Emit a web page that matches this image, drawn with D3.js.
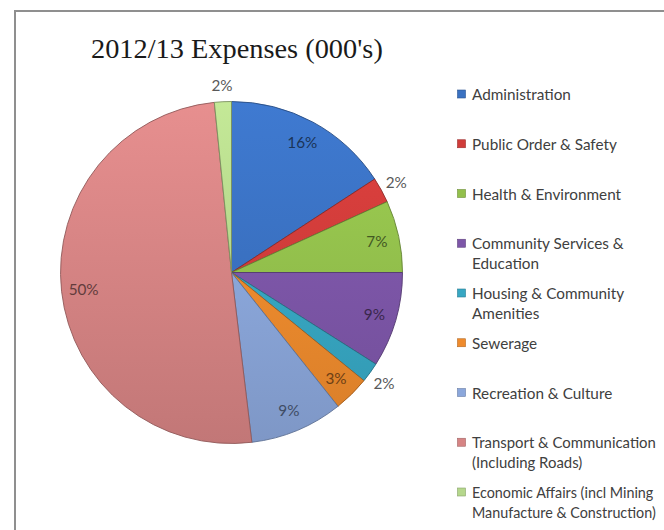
<!DOCTYPE html>
<html><head><meta charset="utf-8">
<script src="https://cdn.jsdelivr.net/npm/d3@7"></script>
<style>html,body{margin:0;padding:0;background:#fff;overflow:hidden}</style>
</head><body>
<svg id="chart" width="664" height="530"></svg>
<script>
// Expense categories (legend order = slice order, clockwise from 12 o'clock)
const categories = [
  "Administration",
  "Public Order & Safety",
  "Health & Environment",
  "Community Services & Education",
  "Housing & Community Amenities",
  "Sewerage",
  "Recreation & Culture",
  "Transport & Communication (Including Roads)",
  "Economic Affairs (incl Mining Manufacture & Construction)"
];
// Legend text as wrapped lines
const legendLines = [
  ["Administration"],
  ["Public Order & Safety"],
  ["Health & Environment"],
  ["Community Services &", "Education"],
  ["Housing & Community", "Amenities"],
  ["Sewerage"],
  ["Recreation & Culture"],
  ["Transport & Communication", "(Including Roads)"],
  ["Economic Affairs (incl Mining", "Manufacture & Construction)"]
];
// Share of total expenses, percent
const shares = [15.8, 2.4, 6.8, 9.0, 1.9, 3.4, 8.8, 50.3, 1.6];
const colors = ["#3a71c1", "#d03c3a", "#93c04c", "#7d56a8", "#37a7c3", "#ef8b2d", "#8ba7db", "#d68484", "#b5d78c"];

const svg = d3.select("#chart");
const W = 664, H = 530;
const cx = 231.5, cy = 272.5, R = 171;

// chart frame
svg.append("rect").attr("x", 15).attr("y", 11).attr("width", 700).attr("height", 600)
  .attr("fill", "#fff").attr("stroke", "#8f8f8f").attr("stroke-width", 2);

// helper: font size that gives a target text width
function fitSize(text, family, target, weight) {
  const t = svg.append("text").attr("font-family", family).attr("font-size", 100)
    .attr("font-weight", weight || "normal").text(text);
  const w = t.node().getComputedTextLength();
  t.remove();
  return 100 * target / w;
}

const serif = "'Liberation Serif', 'DejaVu Serif', serif";
const sans = "Lato, 'Open Sans', 'Liberation Sans', sans-serif";

const titleSize = fitSize("2012/13 Expenses (000's)", serif, 292);
svg.append("text").attr("x", 91).attr("y", 58)
  .attr("font-family", serif).attr("font-size", titleSize).attr("fill", "#1a1a1a")
  .text("2012/13 Expenses (000's)");

const defs = svg.append("defs");
colors.forEach((c, i) => {
  const g = defs.append("linearGradient").attr("id", "grad" + i)
    .attr("gradientUnits", "userSpaceOnUse")
    .attr("x1", 0).attr("y1", -R).attr("x2", 0).attr("y2", R);
  g.append("stop").attr("offset", 0).attr("stop-color", d3.color(c).brighter(0.22));
  g.append("stop").attr("offset", 1).attr("stop-color", d3.color(c).darker(0.28));
});

const pie = d3.pie().sort(null).value(d => d).startAngle(0).endAngle(2 * Math.PI);
const arcs = pie(shares);
const arc = d3.arc().innerRadius(0).outerRadius(R);
const total = d3.sum(shares);

const g = svg.append("g").attr("transform", `translate(${cx},${cy})`);
g.selectAll("path.slice").data(arcs).join("path").attr("class", "slice")
  .attr("d", arc)
  .attr("fill", (d, i) => `url(#grad${i})`)
  .attr("stroke", (d, i) => d3.color(colors[i]).darker(1.1))
  .attr("stroke-width", 0.9)
  .attr("stroke-linejoin", "round");

const labelSize = fitSize("Administration", sans, 99);
const insideArc = d3.arc().innerRadius(R * 0.87).outerRadius(R * 0.87);
const outsideArc = d3.arc().innerRadius(R + 17).outerRadius(R + 17);
g.selectAll("text.pct").data(arcs).join("text").attr("class", "pct")
  .attr("transform", d => {
    const small = d.value / total < 0.025;
    const p = (small ? outsideArc : insideArc).centroid(d);
    return `translate(${p[0]},${p[1]})`;
  })
  .attr("text-anchor", "middle").attr("dominant-baseline", "central")
  .attr("font-family", sans).attr("font-size", labelSize)
  .attr("fill", (d, i) => d.value / total < 0.025 ? "#595959" : d3.color(colors[i]).darker(2.2))
  .text(d => Math.round(d.value / total * 100) + "%");

// legend
const legendY = d3.scaleLinear().domain([0, 8]).range([94, 492]);
const maxTextW = W - 472 - 8;
const leg = svg.append("g");
legendLines.forEach((lines, i) => {
  const y = legendY(i);
  leg.append("rect").attr("x", 457.5).attr("y", y - 4).attr("width", 8).attr("height", 8)
    .attr("fill", colors[i]).attr("stroke", d3.color(colors[i]).darker(0.8)).attr("stroke-width", 0.6);
  // lines too long for the frame get a smaller font
  const widest = d3.max(lines, ln => fitSize(ln, sans, 100) ** -1 * 100 * labelSize);
  const size = widest > maxTextW ? labelSize * maxTextW / widest : labelSize;
  lines.forEach((ln, j) => {
    leg.append("text").attr("x", 472).attr("y", y + j * 20)
      .attr("dominant-baseline", "central")
      .attr("font-family", sans).attr("font-size", size).attr("fill", "#404040")
      .text(ln);
  });
});
</script>
</body></html>
